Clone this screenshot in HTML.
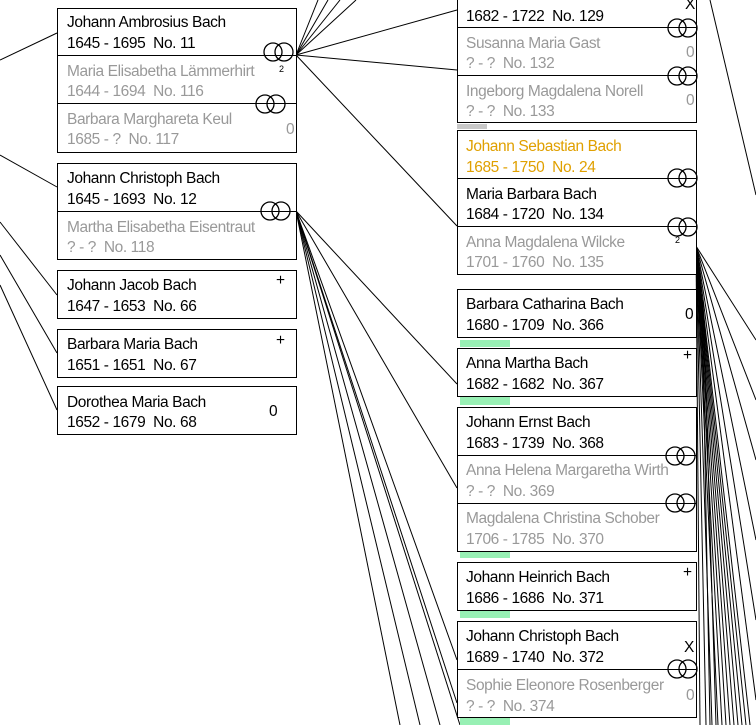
<!DOCTYPE html>
<html><head><meta charset="utf-8"><style>
html,body{margin:0;padding:0;background:#fff;}
svg{display:block}
text{font-family:"Liberation Sans",Arial,sans-serif;font-size:15.5px;letter-spacing:-0.4px;white-space:pre}
.b{fill:#000}.g{fill:#999}.o{fill:#e0a000}
.s{font-size:9px;letter-spacing:0}
</style></head><body>
<svg width="756" height="725" viewBox="0 0 756 725" xmlns="http://www.w3.org/2000/svg">
<g stroke="#000" stroke-width="1" fill="none">
<line x1="0" y1="60" x2="57" y2="33"/>
<line x1="0" y1="155" x2="57" y2="187"/>
<line x1="0" y1="222" x2="57" y2="295"/>
<line x1="0" y1="255" x2="57" y2="353"/>
<line x1="0" y1="285" x2="57" y2="410"/>
<line x1="296" y1="55" x2="318" y2="0"/>
<line x1="296" y1="55" x2="328" y2="0"/>
<line x1="296" y1="55" x2="340" y2="0"/>
<line x1="296" y1="55" x2="356" y2="0"/>
<line x1="296" y1="55" x2="457" y2="10"/>
<line x1="296" y1="55" x2="457" y2="70"/>
<line x1="296" y1="55" x2="457" y2="226"/>
<line x1="296" y1="211" x2="457" y2="384"/>
<line x1="296" y1="211" x2="457" y2="488"/>
<line x1="296" y1="211" x2="457" y2="660"/>
<line x1="296" y1="211" x2="457" y2="703"/>
<line x1="296" y1="211" x2="440" y2="725"/>
<line x1="296" y1="211" x2="420" y2="725"/>
<line x1="296" y1="211" x2="400" y2="725"/>
<line x1="296" y1="211" x2="460" y2="725"/>
<line x1="710" y1="0" x2="756" y2="195"/>
<line x1="696" y1="246" x2="700" y2="725"/>
<line x1="696" y1="246" x2="706" y2="725"/>
<line x1="696" y1="246" x2="712" y2="725"/>
<line x1="696" y1="246" x2="718" y2="725"/>
<line x1="696" y1="246" x2="722" y2="725"/>
<line x1="696" y1="246" x2="726" y2="725"/>
<line x1="696" y1="246" x2="730" y2="725"/>
<line x1="696" y1="246" x2="734" y2="725"/>
<line x1="696" y1="246" x2="738" y2="725"/>
<line x1="696" y1="246" x2="742" y2="725"/>
<line x1="696" y1="246" x2="746" y2="725"/>
<line x1="696" y1="246" x2="750" y2="725"/>
<line x1="696" y1="246" x2="756" y2="700"/>
<line x1="696" y1="246" x2="756" y2="620"/>
<line x1="696" y1="246" x2="756" y2="540"/>
<line x1="696" y1="246" x2="756" y2="460"/>
<line x1="696" y1="246" x2="756" y2="400"/>
<line x1="696" y1="246" x2="756" y2="340"/>
<line x1="702" y1="300" x2="710" y2="725"/>
<line x1="703" y1="300" x2="716" y2="725"/>
</g>
<rect x="457" y="124" width="30" height="5" fill="#c8c8c8"/>
<rect x="460" y="340" width="50" height="7" fill="#98f0b4"/>
<rect x="460" y="397" width="50" height="8" fill="#98f0b4"/>
<rect x="460" y="551" width="50" height="7" fill="#98f0b4"/>
<rect x="460" y="611" width="50" height="7" fill="#98f0b4"/>
<rect x="460" y="718" width="50" height="7" fill="#98f0b4"/>
<g stroke="#000" stroke-width="1" fill="#fff">
<rect x="57.5" y="8.5" width="239" height="144"/>
<rect x="57.5" y="163.5" width="239" height="96"/>
<rect x="57.5" y="270.5" width="239" height="48"/>
<rect x="57.5" y="329.5" width="239" height="48"/>
<rect x="57.5" y="386.5" width="239" height="48"/>
<rect x="457.5" y="-21.5" width="239" height="144"/>
<rect x="457.5" y="130.5" width="239" height="144"/>
<rect x="457.5" y="289.5" width="239" height="48"/>
<rect x="457.5" y="348.5" width="239" height="48"/>
<rect x="457.5" y="407.5" width="239" height="144"/>
<rect x="457.5" y="562.5" width="239" height="48"/>
<rect x="457.5" y="621.5" width="239" height="96"/>
</g>
<g stroke="#000">
<line x1="57" y1="55.5" x2="296" y2="55.5"/><line x1="57" y1="103.5" x2="296" y2="103.5"/>
<line x1="57" y1="211.5" x2="296" y2="211.5"/>
<line x1="457" y1="27.5" x2="696" y2="27.5"/><line x1="457" y1="75.5" x2="696" y2="75.5"/>
<line x1="457" y1="178.5" x2="696" y2="178.5"/><line x1="457" y1="226.5" x2="696" y2="226.5"/>
<line x1="457" y1="455.5" x2="696" y2="455.5"/><line x1="457" y1="503.5" x2="696" y2="503.5"/>
<line x1="457" y1="669.5" x2="696" y2="669.5"/>
</g>
<g stroke="#000" stroke-width="1.3" fill="none">
<circle cx="273" cy="52" r="9"/><circle cx="284" cy="52" r="9"/>
<circle cx="265" cy="104" r="9"/><circle cx="276" cy="104" r="9"/>
<circle cx="270" cy="211" r="9"/><circle cx="281" cy="211" r="9"/>
<circle cx="677" cy="28" r="9"/><circle cx="688" cy="28" r="9"/>
<circle cx="677" cy="76" r="9"/><circle cx="688" cy="76" r="9"/>
<circle cx="677" cy="178" r="9"/><circle cx="688" cy="178" r="9"/>
<circle cx="677" cy="227" r="9"/><circle cx="688" cy="227" r="9"/>
<circle cx="675" cy="456" r="9"/><circle cx="686" cy="456" r="9"/>
<circle cx="675" cy="503" r="9"/><circle cx="686" cy="503" r="9"/>
<circle cx="677" cy="669" r="9"/><circle cx="688" cy="669" r="9"/>
</g>
<text x="67" y="27" class="b">Johann Ambrosius Bach</text>
<text x="67" y="48" class="b">1645 - 1695  No. 11</text>
<text x="67" y="76" class="g">Maria Elisabetha Lämmerhirt</text>
<text x="67" y="96" class="g">1644 - 1694  No. 116</text>
<text x="67" y="124" class="g">Barbara Marghareta Keul</text>
<text x="67" y="144" class="g">1685 - ?  No. 117</text>
<text x="286" y="134" class="g">0</text>
<text x="279" y="72" class="b s">2</text>
<text x="67" y="183" class="b">Johann Christoph Bach</text>
<text x="67" y="204" class="b">1645 - 1693  No. 12</text>
<text x="67" y="232" class="g">Martha Elisabetha Eisentraut</text>
<text x="67" y="252" class="g">? - ?  No. 118</text>
<text x="67" y="290" class="b">Johann Jacob Bach</text>
<text x="67" y="311" class="b">1647 - 1653  No. 66</text>
<text x="276" y="285" class="b">+</text>
<text x="67" y="349" class="b">Barbara Maria Bach</text>
<text x="67" y="370" class="b">1651 - 1651  No. 67</text>
<text x="276" y="345" class="b">+</text>
<text x="67" y="407" class="b">Dorothea Maria Bach</text>
<text x="67" y="427" class="b">1652 - 1679  No. 68</text>
<text x="269" y="416" class="b">0</text>
<text x="466" y="21" class="b">1682 - 1722  No. 129</text>
<text x="685" y="9" class="b">X</text>
<text x="466" y="48" class="g">Susanna Maria Gast</text>
<text x="466" y="68" class="g">? - ?  No. 132</text>
<text x="686" y="57" class="g">0</text>
<text x="466" y="96" class="g">Ingeborg Magdalena Norell</text>
<text x="466" y="116" class="g">? - ?  No. 133</text>
<text x="686" y="105" class="g">0</text>
<text x="466" y="151" class="o">Johann Sebastian Bach</text>
<text x="466" y="172" class="o">1685 - 1750  No. 24</text>
<text x="466" y="199" class="b">Maria Barbara Bach</text>
<text x="466" y="219" class="b">1684 - 1720  No. 134</text>
<text x="466" y="247" class="g">Anna Magdalena Wilcke</text>
<text x="466" y="267" class="g">1701 - 1760  No. 135</text>
<text x="675" y="243" class="b s">2</text>
<text x="466" y="309" class="b">Barbara Catharina Bach</text>
<text x="466" y="330" class="b">1680 - 1709  No. 366</text>
<text x="685" y="319" class="b">0</text>
<text x="466" y="368" class="b">Anna Martha Bach</text>
<text x="466" y="389" class="b">1682 - 1682  No. 367</text>
<text x="683" y="360" class="b">+</text>
<text x="466" y="427" class="b">Johann Ernst Bach</text>
<text x="466" y="448" class="b">1683 - 1739  No. 368</text>
<text x="466" y="475" class="g">Anna Helena Margaretha Wirth</text>
<text x="466" y="496" class="g">? - ?  No. 369</text>
<text x="466" y="523" class="g">Magdalena Christina Schober</text>
<text x="466" y="544" class="g">1706 - 1785  No. 370</text>
<text x="466" y="582" class="b">Johann Heinrich Bach</text>
<text x="466" y="603" class="b">1686 - 1686  No. 371</text>
<text x="683" y="577" class="b">+</text>
<text x="466" y="641" class="b">Johann Christoph Bach</text>
<text x="466" y="662" class="b">1689 - 1740  No. 372</text>
<text x="684" y="652" class="b">X</text>
<text x="466" y="690" class="g">Sophie Eleonore Rosenberger</text>
<text x="466" y="711" class="g">? - ?  No. 374</text>
<text x="686" y="700" class="g">0</text>
</svg>
</body></html>
